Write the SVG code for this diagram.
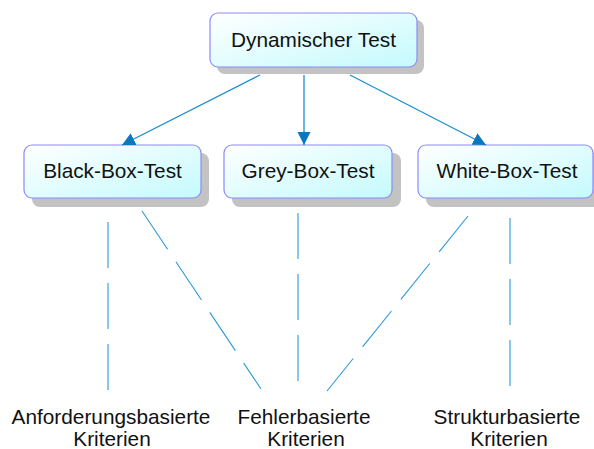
<svg xmlns="http://www.w3.org/2000/svg" width="594" height="449" viewBox="0 0 594 449">
<defs>
<linearGradient id="fill" x1="0" y1="0" x2="1" y2="1">
<stop offset="0" stop-color="#ffffff"/>
<stop offset="1" stop-color="#c4fafc"/>
</linearGradient>
<marker id="arr" markerUnits="userSpaceOnUse" markerWidth="14" markerHeight="14" refX="13" refY="7" orient="auto">
<path d="M0,0.5 L13,7 L0,13.5 z" fill="#0a78c0"/>
</marker>
</defs>
<style>
.shadow{fill:#c3c3c3}
.box{fill:url(#fill);stroke:#8c8cf5;stroke-width:1.2}
.lbl{font-family:"Liberation Sans",Arial,sans-serif;font-size:20.8px;fill:#111;text-anchor:middle}
.arrow{stroke:#1a8fd0;stroke-width:1.3;fill:none;marker-end:url(#arr)}
.dash{stroke:#2a9ad8;stroke-width:1.1;fill:none;stroke-dasharray:46 15}
</style>
<rect width="594" height="449" fill="#fff"/>
<g id="dynamischer-test">
<rect class="shadow" x="217" y="20" width="207" height="54" rx="8"/>
<rect class="box" x="210" y="13" width="207" height="54" rx="8"/>
<text class="lbl" x="313.5" y="47">Dynamischer Test</text>
</g>
<g id="black-box-test">
<rect class="shadow" x="32" y="153" width="177" height="54" rx="8"/>
<rect class="box" x="24" y="145" width="177" height="53" rx="8"/>
<text class="lbl" x="112.5" y="178">Black-Box-Test</text>
</g>
<g id="grey-box-test">
<rect class="shadow" x="232" y="153" width="169" height="54" rx="8"/>
<rect class="box" x="224" y="145" width="168" height="53" rx="8"/>
<text class="lbl" x="308" y="178">Grey-Box-Test</text>
</g>
<g id="white-box-test">
<rect class="shadow" x="426" y="153" width="180" height="54" rx="8"/>
<rect class="box" x="418" y="145" width="175" height="53" rx="8"/>
<text class="lbl" x="507" y="178">White-Box-Test</text>
</g>
<g id="anforderungsbasierte">
<text class="lbl" x="111" y="424">Anforderungsbasierte</text>
<text class="lbl" x="112" y="446">Kriterien</text>
</g>
<g id="fehlerbasierte">
<text class="lbl" x="304" y="424">Fehlerbasierte</text>
<text class="lbl" x="306" y="446">Kriterien</text>
</g>
<g id="strukturbasierte">
<text class="lbl" x="507" y="424">Strukturbasierte</text>
<text class="lbl" x="509" y="446">Kriterien</text>
</g>
<g id="connectors">
<line class="arrow" x1="260" y1="75" x2="122" y2="145"/>
<line class="arrow" x1="304" y1="75" x2="304" y2="145"/>
<line class="arrow" x1="350" y1="75" x2="486" y2="145"/>
<line class="dash" x1="108" y1="222" x2="108" y2="392"/>
<line class="dash" x1="142" y1="211" x2="261" y2="389"/>
<line class="dash" x1="298" y1="213" x2="298" y2="383"/>
<line class="dash" x1="468" y1="216" x2="327" y2="391"/>
<line class="dash" x1="510" y1="218" x2="510" y2="388"/>
</g>
</svg>
